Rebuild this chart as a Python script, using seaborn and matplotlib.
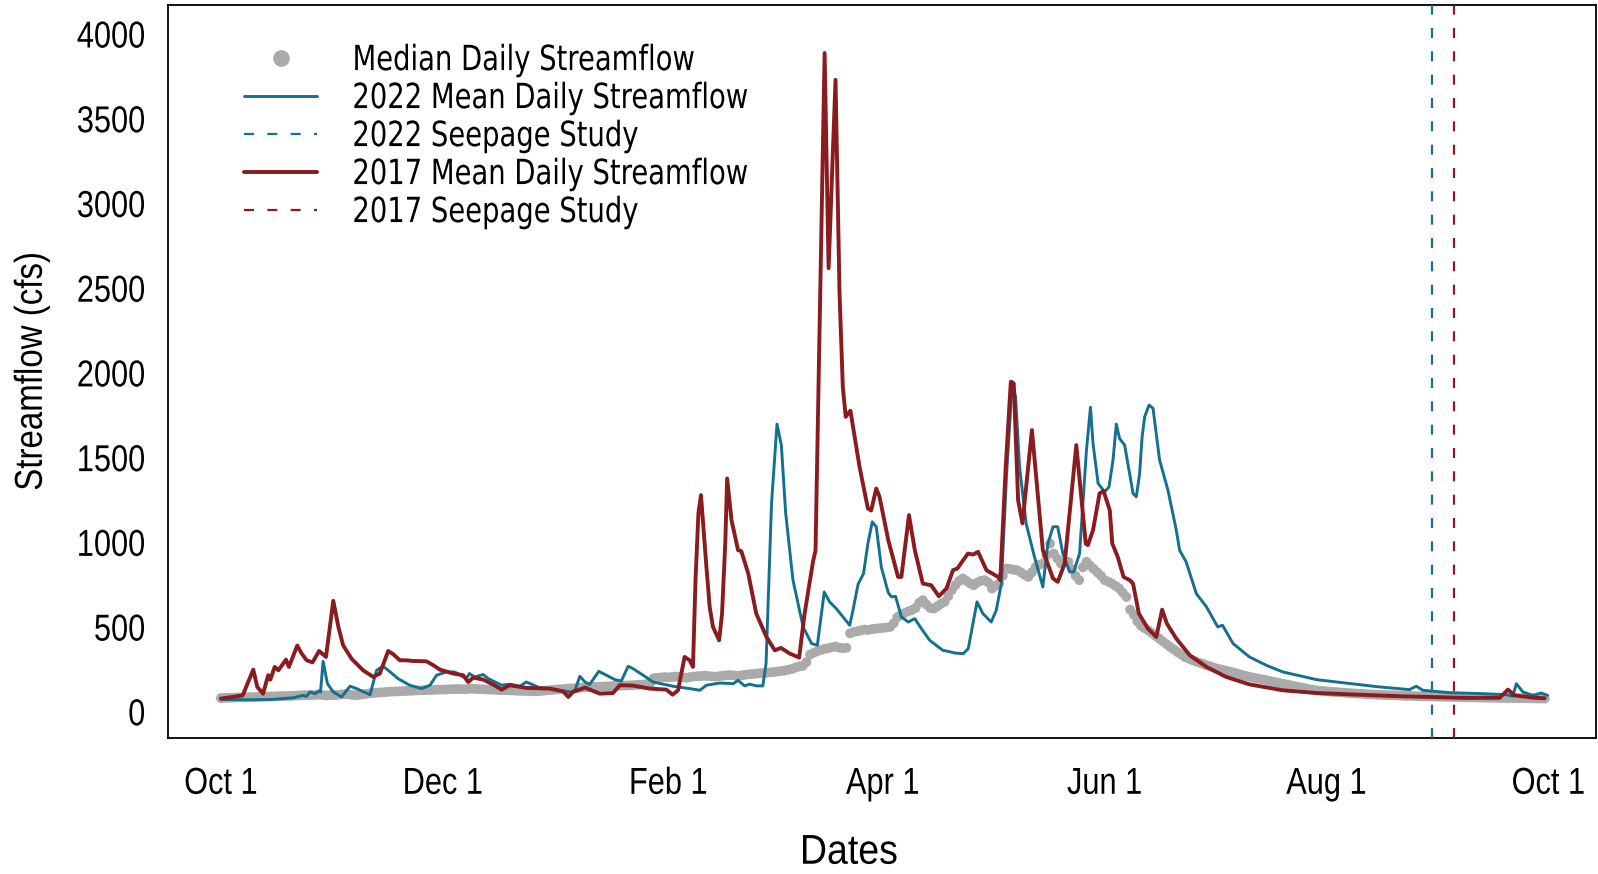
import numpy as np
import pandas as pd
import matplotlib
matplotlib.use("Agg")
import matplotlib.pyplot as plt
import seaborn as sns
from matplotlib.lines import Line2D
from matplotlib.patheffects import AbstractPathEffect
from matplotlib.transforms import Affine2D

# ---------------- data ----------------
# Median daily streamflow, one value per day of the water year (Oct 1 .. Sep 30)
median_oct = [78, 79, 80, 80, 81, 82, 82, 83, 84, 84, 85, 86, 86, 87, 88, 88, 89, 90, 90, 91,
              92, 93, 94, 95, 95, 96, 97, 98, 96, 94, 95]
median_nov = [96, 97, 99, 101, 100, 97, 95, 97, 100, 103, 106, 108, 110, 112, 113, 115, 116, 117,
              118, 119, 120, 121, 122, 123, 124, 125, 126, 126, 127, 128]
median_dec = [128, 129, 130, 131, 132, 131, 130, 132, 133, 132, 131, 130, 129, 128, 127, 126, 125,
              125, 124, 123, 122, 121, 120, 120, 119, 118, 118, 120, 122, 124, 126]
median_jan = [128, 130, 131, 133, 135, 136, 138, 140, 141, 142, 143, 144, 145, 146, 147, 148, 149,
              150, 151, 152, 153, 154, 155, 157, 158, 160, 162, 195, 198, 200, 202]
median_feb = [200, 202, 205, 203, 200, 198, 202, 205, 207, 208, 210, 208, 206, 205, 207, 210, 212,
              214, 212, 210, 212, 215, 218, 220, 222, 224, 226, 228]
median_mar = [230, 232, 235, 238, 240, 245, 250, 258, 265, 268, 290, 335, 345, 355, 362, 368, 372,
              378, 382, 376, 372, 375, 460, 468, 472, 478, 482, 480, 485, 488, 490]
median_apr = [492, 495, 498, 520, 555, 570, 580, 590, 597, 610, 640, 656, 630, 610, 606, 620, 635,
              646, 680, 715, 745, 770, 784, 770, 755, 744, 760, 770, 774, 760]
median_may = [725, 740, 754, 800, 843, 840, 835, 833, 820, 805, 793, 820, 850, 865, 872, 920, 990,
              931, 900, 872, 878, 882, 840, 800, 774, 850, 882, 860, 840, 820, 800]
median_jun = [774, 765, 754, 740, 725, 700, 675, 600, 570, 530, 505, 490, 478, 462, 445, 429, 412,
              396, 380, 365, 350, 335, 321, 312, 303, 295, 287, 280, 272, 266]
median_jul = [258, 252, 247, 242, 236, 231, 225, 219, 213, 208, 203, 198, 194, 190, 186, 181, 176,
              172, 167, 163, 158, 154, 149, 145, 141, 137, 132, 128, 124, 122, 120]
median_aug = [118, 116, 114, 113, 111, 110, 108, 106, 105, 104, 103, 101, 100, 99, 98, 97, 96, 95,
              95, 94, 93, 92, 91, 91, 90, 89, 89, 88, 88, 87, 87]
median_sep = [86, 86, 85, 85, 84, 84, 83, 83, 82, 82, 82, 81, 81, 80, 80, 80, 79, 79, 79, 78, 78,
              78, 77, 77, 77, 76, 76, 76, 75, 75]

# 2022 mean daily streamflow (day of water year, cfs)
flow2022_days = [0, 8, 14, 20, 22.6, 23.5, 24.5, 25.9, 27, 27.4, 28.1, 29.3, 30.9, 33.2, 35.5, 37.3,
                 41, 42.8, 44.6, 46, 48.7, 51.9, 55.2, 57.5, 59.3, 62, 64.3, 67.5, 68.3, 69.8, 72.1,
                 73.5, 77.2, 79.4, 82.2, 84, 87.7, 90.4, 95.9, 97.3, 98.7, 100.1, 101.4, 103.9, 106,
                 108.3, 110.1, 112, 113.3, 116.1, 118.8, 124.3, 128.9, 131.7, 133.5, 137.2, 140.9,
                 142.2, 144, 145.4, 147.3, 149, 149.9, 151.4, 152.9, 154.1, 155.3, 157.3, 160.1,
                 162.4, 164, 165.9, 167.4, 169.2, 172.9, 173.8, 175.2, 176.7, 177.9, 179.1, 180.2,
                 181.6, 183.5, 184.4, 185.5, 187.1, 189, 190.8, 192.6, 194.9, 198.5, 199.9, 201.8,
                 204.1, 205.5, 206.8, 207.9, 209.5, 211.8, 213.2, 214.6, 216, 217.6, 218.5, 219.6,
                 221.4, 223.7, 226, 227.4, 228.8, 230.1, 231.5, 233.4, 234.5, 236.1, 238, 239.1,
                 239.8, 241.2, 243, 244.2, 245.3, 246.2, 247.1, 248.5, 250.8, 251.7, 252.6, 253.3,
                 254, 255.2, 256.3, 258.1, 260.4, 262.7, 263.6, 265.4, 268.2, 271, 274.1, 275.4,
                 278.3, 282.8, 287.4, 292, 296.6, 301.2, 310.3, 318, 326.8, 328.7, 330.5, 337.8,
                 347, 353.4, 355.2, 356.2, 358, 360.8, 363, 364.8]
flow2022_vals = [70, 68, 70, 80, 94, 88, 114, 104, 120, 114, 295, 163, 114, 85, 148, 134,
                 98, 242, 266, 242, 193, 154, 134, 154, 213, 232, 232, 193, 223, 203, 217,
                 193, 154, 160, 148, 173, 138, 134, 114, 120, 207, 173, 158, 236, 213,
                 187, 179, 266, 252, 213, 173, 148, 134, 124, 154, 167, 163,
                 183, 150, 160, 150, 150, 281, 1226, 1695, 1571, 1168, 774, 498,
                 400, 390, 704, 645, 606, 508, 597, 750, 813, 990, 1118, 1089,
                 850, 700, 675, 679, 557, 527, 547, 488, 419, 360, 354, 344,
                 340, 370, 518, 646, 577, 527, 597, 754, 1384, 1945, 1857, 1443,
                 1109, 911, 734, 990, 1089, 1089, 931, 823, 823, 931, 1542, 1794,
                 1581, 1345, 1295, 1325, 1483, 1695, 1610, 1571, 1286, 1266, 1400, 1620,
                 1738, 1807, 1788, 1483, 1305, 1069, 951, 882, 695, 616, 498, 508,
                 400, 321, 272, 232, 210, 187, 164, 145, 128, 148, 124, 110,
                 104, 98, 89, 163, 114, 94, 108, 94]

# 2017 mean daily streamflow (day of water year, cfs)
flow2017_days = [0, 6, 8.9, 10, 11.6, 13, 13.6, 14.8, 15.8, 17.9, 18.7, 21, 22.2, 23.6, 25.2, 27,
                 28.9, 30.9, 32.3, 33.6, 35.9, 39.1, 41.9, 43.7, 46, 47.4, 49.2, 51, 52.8, 56.5,
                 58.4, 60.2, 63.9, 66.6, 68, 69.4, 72.1, 74.8, 77.2, 79.4, 84, 90.4, 94.1, 95.5,
                 96.8, 100.1, 104.2, 107.8, 109.7, 113.3, 117.9, 122.5, 124.2, 125.7, 127.5, 128.9,
                 129.8, 130.5, 131.3, 132, 133.5, 134.4, 135.3, 137, 137.8, 138.7, 139.2, 140.4,
                 142.2, 143.1, 145, 147.2, 150, 152.3, 154, 156.4, 159, 160.5, 162.8, 163.5, 166,
                 167.1, 169, 170.1, 171, 171.8, 173.1, 175.6, 177.9, 178.8, 180.2, 181.1, 183.5,
                 186.2, 187.1, 189.2, 190.8, 193, 195.3, 197.4, 199.5, 201.3, 202.5, 205.4, 206.8,
                 208.2, 210.5, 213.7, 214.3, 215.8, 217.2, 218, 219.2, 220.4, 223, 226, 228.8,
                 230.1, 232, 235.2, 237.8, 238.4, 239.8, 241.6, 242.7, 244.4, 245.1, 246.6, 248.2,
                 249.9, 250.8, 252.4, 254.9, 257.2, 258.8, 260.1, 262.7, 266.4, 271, 276.4, 282.8,
                 292, 301.2, 310.3, 324, 342.4, 351.6, 353.9, 355.7, 361, 364]
flow2017_vals = [75, 94, 246, 144, 104, 213, 187, 262, 242, 305, 262, 388, 341, 301, 289, 356,
                 321, 652, 498, 390, 311, 242, 203, 223, 356, 337, 301, 301, 297, 295,
                 272, 246, 223, 213, 173, 199, 187, 159, 128, 154, 138, 134, 118, 85,
                 114, 140, 104, 108, 154, 152, 134, 128, 98, 124, 321, 301,
                 262, 774, 1168, 1276, 852, 616, 498, 419, 577, 1000, 1374, 1128,
                 951, 945, 813, 577, 439, 360, 374, 341, 317, 577, 882, 950, 3885,
                 2615, 3727, 2469, 1916, 1738, 1774, 1443, 1197, 1185, 1315, 1266, 1010,
                 793, 793, 1158, 951, 754, 744, 679, 725, 833, 843, 931, 925,
                 941, 833, 793, 774, 1443, 1945, 1935, 1246, 1109, 1660, 951, 784,
                 764, 872, 1571, 990, 981, 1069, 1286, 1300, 1187, 990, 911, 793,
                 774, 754, 577, 488, 439, 600, 518, 429, 331, 262, 203, 159,
                 124, 108, 100, 89, 79, 80, 128, 94, 80, 77]

seepage_2022_day = 333   # Aug 30
seepage_2017_day = 339   # Sep 5

month_tick_days = [0, 31, 61, 92, 123, 151, 182, 212, 243, 273, 304, 335, 365]
month_tick_labels = ["Oct 1", "", "Dec 1", "", "Feb 1", "", "Apr 1", "", "Jun 1", "",
                     "Aug 1", "", "Oct 1"]
y_ticks = [0, 500, 1000, 1500, 2000, 2500, 3000, 3500, 4000]
legend_labels = ["Median Daily Streamflow", "2022 Mean Daily Streamflow", "2022 Seepage Study",
                 "2017 Mean Daily Streamflow", "2017 Seepage Study"]


# Horizontally condensed glyph rendering (the reference uses narrow lettering)
class HSqueeze(AbstractPathEffect):
    def __init__(self, sx, anchor="center"):
        super().__init__()
        self.sx = sx
        self.anchor = anchor

    def draw_path(self, renderer, gc, tpath, affine, rgbFace=None):
        ext = tpath.get_extents()
        if self.anchor == "left":
            cx = ext.x0
        elif self.anchor == "right":
            cx = ext.x1
        else:
            cx = 0.5 * (ext.x0 + ext.x1)
        t = Affine2D().translate(-cx, 0).scale(self.sx, 1.0).translate(cx, 0) + affine
        renderer.draw_path(gc, tpath, t, rgbFace)


# ---------------- plotting ----------------
median_vals = (median_oct + median_nov + median_dec + median_jan + median_feb + median_mar +
               median_apr + median_may + median_jun + median_jul + median_aug + median_sep)
median_df = pd.DataFrame({"day": np.arange(len(median_vals)), "flow": median_vals})
df2022 = pd.DataFrame({"day": flow2022_days, "flow": flow2022_vals})
df2017 = pd.DataFrame({"day": flow2017_days, "flow": flow2017_vals})

sns.set_theme(style="white")
plt.rcParams["font.family"] = ["Liberation Sans", "DejaVu Sans"]
plt.rcParams["text.color"] = "black"
plt.rcParams["axes.labelcolor"] = "black"

c_med = "#aaaaaa"
c_2022 = "#13708f"
c_2017 = "#8a1b1e"
dash = (0, (4.5, 6))

fig = plt.figure(figsize=(15.98, 8.74), dpi=100)
ax = fig.add_axes([0.105, 0.1556, 0.89375, 0.8387])

sns.scatterplot(data=median_df, x="day", y="flow", color=c_med, s=50, linewidth=0,
                edgecolor="none", ax=ax, zorder=1, legend=False)
sns.lineplot(data=df2022, x="day", y="flow", color=c_2022, linewidth=2.1, ax=ax, zorder=2)
ax.axvline(seepage_2022_day, color=c_2022, linewidth=1.6, linestyle=dash, zorder=3)
sns.lineplot(data=df2017, x="day", y="flow", color=c_2017, linewidth=2.8, ax=ax, zorder=4)
ax.axvline(seepage_2017_day, color=c_2017, linewidth=1.6, linestyle=dash, zorder=5)

ax.set_xlim(-14.6, 378.1)
ax.set_ylim(-157.6, 4168.6)
ax.set_xticks(month_tick_days)
ax.set_xticklabels(month_tick_labels)
ax.set_yticks(y_ticks)
ax.set_yticklabels([str(v) for v in y_ticks])

for sp in ax.spines.values():
    sp.set_visible(True)
    sp.set_color("black")
    sp.set_linewidth(1.3)

ax.tick_params(axis="both", direction="in", length=10, width=1.3, colors="black",
               labelsize=27)
ax.tick_params(axis="x", pad=20)
ax.tick_params(axis="y", pad=16)

ax.set_xlabel("Dates", fontsize=30)
ax.set_ylabel("Streamflow (cfs)", fontsize=28)
ax.xaxis.label.set_va("baseline")
ax.xaxis.set_label_coords(0.4767, -0.1715)
ax.yaxis.set_label_coords(-0.0826, 0.5)
ax.xaxis.label.set_path_effects([HSqueeze(0.9, "center")])
ax.yaxis.label.set_path_effects([HSqueeze(0.85, "center")])

for tk in ax.xaxis.get_major_ticks():
    tk.label1.set_path_effects([HSqueeze(0.82, "center")])
for tk in ax.yaxis.get_major_ticks():
    tk.label1.set_path_effects([HSqueeze(0.82, "right")])

handles = [
    Line2D([], [], linestyle="none", marker="o", markersize=12, color=c_med,
           markeredgewidth=0),
    Line2D([], [], color=c_2022, linewidth=2.1),
    Line2D([], [], color=c_2022, linewidth=1.6, linestyle=dash),
    Line2D([], [], color=c_2017, linewidth=2.8),
    Line2D([], [], color=c_2017, linewidth=1.6, linestyle=dash),
]
leg = ax.legend(handles, legend_labels, loc="upper left", bbox_to_anchor=(0.0535, 0.948),
                frameon=False, prop={"family": "DejaVu Sans", "size": 25},
                handlelength=2.1, handletextpad=1.0, labelspacing=0.115,
                borderpad=0, borderaxespad=0)
for t in leg.get_texts():
    t.set_path_effects([HSqueeze(0.79, "left")])

fig.savefig("out.png", dpi=100)
